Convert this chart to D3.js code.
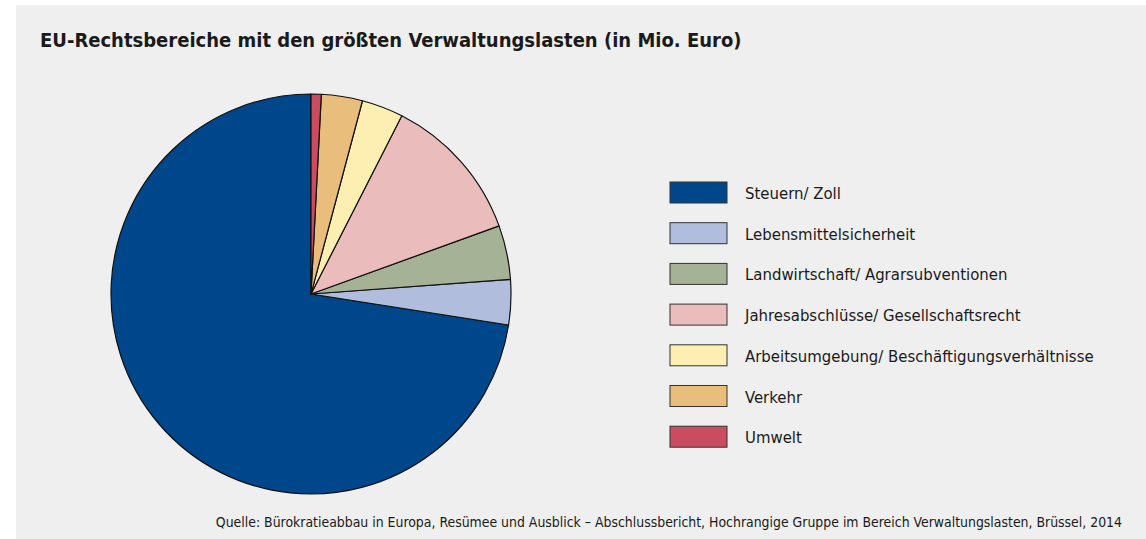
<!DOCTYPE html>
<html>
<head>
<meta charset="utf-8">
<script src="https://cdn.jsdelivr.net/npm/d3@7"></script>
<style>
  body { margin: 0; background: #fff; }
  svg text { font-family: "DejaVu Sans Condensed", "DejaVu Sans", sans-serif; fill: #1a1a1a; }
</style>
</head>
<body>
<svg id="chart"></svg>
<script>
// *********************************************
// DATA (Mio. Euro)
// *********************************************
var categories = ["Steuern/ Zoll", "Lebensmittelsicherheit", "Landwirtschaft/ Agrarsubventionen",
                  "Jahresabschlüsse/ Gesellschaftsrecht", "Arbeitsumgebung/ Beschäftigungsverhältnisse",
                  "Verkehr", "Umwelt"];
var values = [69700, 3500, 4200, 11500, 3230, 3190, 790];
var sliceColors = ["#00468a", "#b1bddc", "#a6b295", "#ebbcbc", "#fdeeb1", "#e9bd7b", "#c94c60"];

var titleText = "EU-Rechtsbereiche mit den größten Verwaltungslasten (in Mio. Euro)";
var sourceText = "Quelle: Bürokratieabbau in Europa, Resümee und Ausblick – Abschlussbericht, Hochrangige Gruppe im Bereich Verwaltungslasten, Brüssel, 2014";

// *********************************************
// SETUP
// *********************************************
var width = 1146,
    height = 539;

var svg = d3.select("#chart")
    .attr("width", width)
    .attr("height", height);

svg.append("rect")
    .attr("x", 16).attr("y", 5)
    .attr("width", width - 16).attr("height", height - 5)
    .attr("fill", "#efefef");

svg.append("text")
    .attr("x", 40).attr("y", 47)
    .style("font-size", "20px")
    .style("font-weight", "bold")
    .text(titleText);

svg.append("text")
    .attr("x", 1122).attr("y", 527)
    .attr("text-anchor", "end")
    .style("font-size", "13.9px")
    .text(sourceText);

// *********************************************
// PIE
// *********************************************
var radius = 200;
var g = svg.append("g")
    .attr("transform", "translate(311,294)");

// counter-clockwise from 12 o'clock, Steuern first
var pie = d3.pie().sort(null).startAngle(0).endAngle(-2 * Math.PI);
var arc = d3.arc().innerRadius(0).outerRadius(radius);

g.selectAll("path")
    .data(pie(values))
  .enter().append("path")
    .attr("d", arc)
    .attr("fill", (d, i) => sliceColors[i])
    .attr("stroke", "#111")
    .attr("stroke-width", 1.2)
    .attr("stroke-linejoin", "round");

// *********************************************
// LEGEND
// *********************************************
var legend = svg.append("g")
    .attr("transform", "translate(670,182)");

var item = legend.selectAll("g")
    .data(categories)
  .enter().append("g")
    .attr("transform", (d, i) => "translate(0," + (i * 40.7) + ")");

item.append("rect")
    .attr("width", 57).attr("height", 21)
    .attr("fill", (d, i) => sliceColors[i])
    .attr("stroke", "#333")
    .attr("stroke-width", 1);

item.append("text")
    .attr("x", 75).attr("y", 17)
    .style("font-size", "16.6px")
    .text(d => d);
</script>
</body>
</html>
